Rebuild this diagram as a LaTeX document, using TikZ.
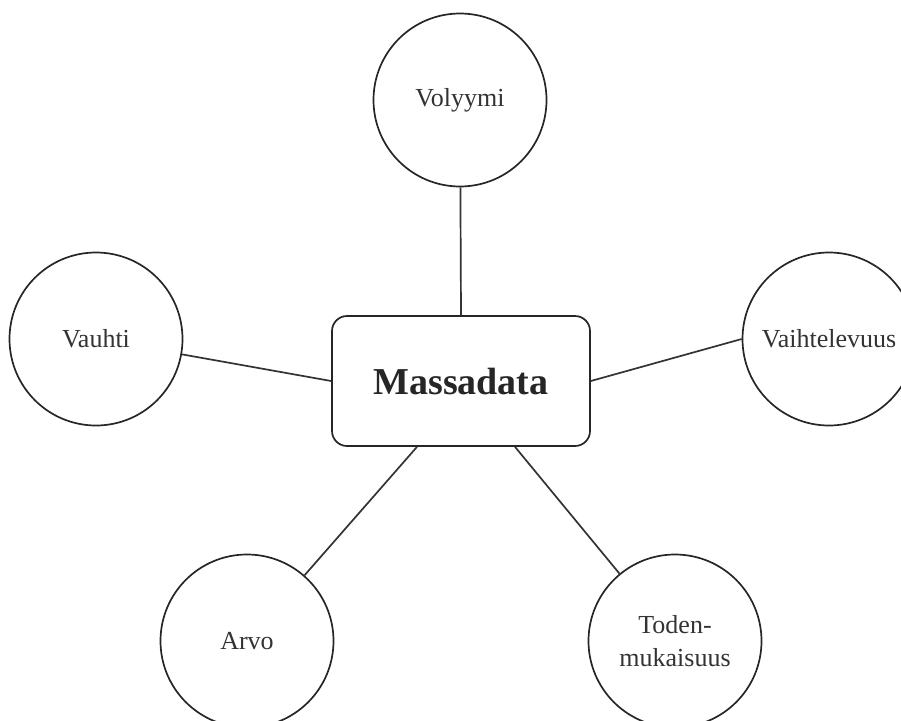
\documentclass[tikz,border=0pt]{standalone}
\usepackage{fontspec}
\setmainfont{Liberation Serif}

\tikzset{
  aihe/.style={circle,draw=black!85,line width=1.7pt,minimum size=173pt,inner sep=0pt,
    font=\fontsize{26}{33}\selectfont,text=black!80,align=center},
  keskus/.style={rectangle,rounded corners=15pt,draw=black!85,line width=1.7pt,
    minimum width=258pt,minimum height=130pt,font=\fontsize{38}{44}\selectfont\bfseries,text=black!85},
  yhteys/.style={draw=black!80,line width=1.7pt}
}

\begin{document}
\begin{tikzpicture}[x=1pt,y=-1pt]

    % page
    \useasboundingbox (0,0) rectangle (901,720);
    \clip (0,0) rectangle (901,720);

    % center box
    \node[keskus] (massa) at (461,381) {Massadata};

    % the five circles
    \node[aihe] (volyymi) at (460,100) {Volyymi};
    \node[aihe] (vauhti) at (96,339) {Vauhti};
    \node[aihe] (vaihtelevuus) at (829,339) {Vaihtelevuus};
    \node[aihe] (arvo) at (247,641) {Arvo};
    \node[aihe] (toden) at (675,641) {Toden-\\mukaisuus};

    % connectors
    \draw[yhteys] (massa.north) -- (volyymi);
    \draw[yhteys] (vauhti) -- (massa.west);
    \draw[yhteys] (massa.east) -- (vaihtelevuus.west);
    \draw[yhteys] ([xshift=-44pt]massa.south) -- (arvo);
    \draw[yhteys] ([xshift=54pt]massa.south) -- (toden);
  \end{tikzpicture}
\end{document}
